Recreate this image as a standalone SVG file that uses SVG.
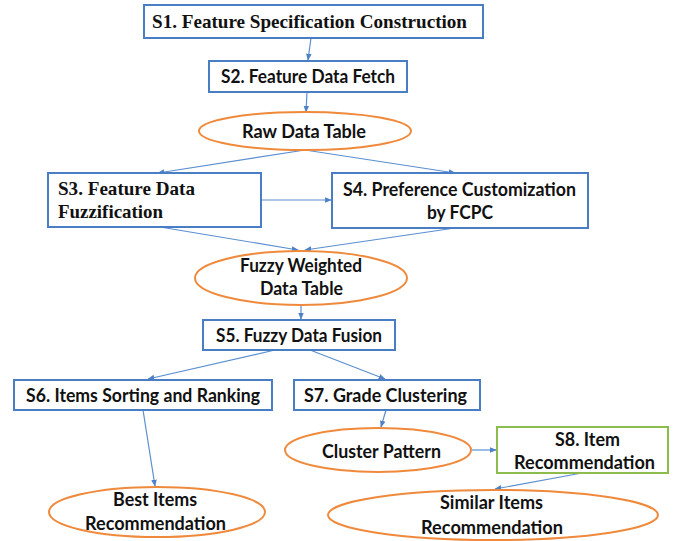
<svg xmlns="http://www.w3.org/2000/svg" width="676" height="541" viewBox="0 0 676 541">
<defs>
<marker id="ah" viewBox="0 0 10 10" refX="9" refY="5" markerWidth="7" markerHeight="7" orient="auto" markerUnits="userSpaceOnUse">
<path d="M0,1 L10,5 L0,9 z" fill="#4f81c7"/>
</marker>
<style>
.box{fill:#fff;stroke:#4a7ec4;stroke-width:2}
.gbox{fill:#fff;stroke:#8cbb4e;stroke-width:2}
.ell{fill:#fff;stroke:#ef8a3c;stroke-width:2}
.c{fill:none;stroke:#5b8fd0;stroke-width:1.2;marker-end:url(#ah)}
.sf{font-family:"Liberation Serif","Times New Roman",serif;font-weight:bold;font-size:19px;fill:#111}
.ss{font-family:Lato,"Liberation Sans",sans-serif;font-weight:bold;font-size:18px;fill:#111}
</style>
</defs>
<rect width="676" height="541" fill="#fff"/>
<g id="connectors">
<line class="c" x1="311" y1="38" x2="308" y2="60"/>
<line class="c" x1="307" y1="92" x2="306" y2="112"/>
<line class="c" x1="305" y1="150" x2="158" y2="173"/>
<line class="c" x1="305" y1="150" x2="455" y2="173"/>
<line class="c" x1="262" y1="200" x2="331" y2="200"/>
<line class="c" x1="160" y1="227" x2="298" y2="250"/>
<line class="c" x1="455" y1="228" x2="305" y2="250"/>
<line class="c" x1="301" y1="305" x2="301" y2="319"/>
<line class="c" x1="275" y1="350" x2="148" y2="379"/>
<line class="c" x1="310" y1="350" x2="385" y2="379"/>
<line class="c" x1="143" y1="410" x2="155" y2="486"/>
<line class="c" x1="386" y1="410" x2="381" y2="427"/>
<line class="c" x1="472" y1="450" x2="496" y2="450"/>
<line class="c" x1="582" y1="473" x2="495" y2="489"/>
</g>
<g id="s1"><rect class="box" x="144" y="5" width="339" height="33"/><text class="sf" x="152" y="28" textLength="315" lengthAdjust="spacingAndGlyphs">S1. Feature Specification Construction</text></g>
<g id="s2"><rect class="box" x="209" y="61" width="198" height="31"/><text class="ss" x="221" y="83" textLength="174" lengthAdjust="spacingAndGlyphs">S2. Feature Data Fetch</text></g>
<g id="raw"><ellipse class="ell" cx="305" cy="131" rx="106" ry="19"/><text class="ss" x="242" y="138" textLength="124" lengthAdjust="spacingAndGlyphs">Raw Data Table</text></g>
<g id="s3"><rect class="box" x="48" y="173" width="213" height="54"/><text class="sf" x="58" y="195" textLength="137" lengthAdjust="spacingAndGlyphs">S3. Feature Data</text><text class="sf" x="58" y="218" textLength="105" lengthAdjust="spacingAndGlyphs">Fuzzification</text></g>
<g id="s4"><rect class="box" x="332" y="173" width="256" height="55"/><text class="ss" x="343" y="196" textLength="233" lengthAdjust="spacingAndGlyphs">S4. Preference Customization</text><text class="ss" x="460" y="219" text-anchor="middle" textLength="66" lengthAdjust="spacingAndGlyphs">by FCPC</text></g>
<g id="fuzzy"><ellipse class="ell" cx="301" cy="278" rx="106" ry="27"/><text class="ss" x="240" y="272" textLength="122" lengthAdjust="spacingAndGlyphs">Fuzzy Weighted</text><text class="ss" x="260" y="295" textLength="83" lengthAdjust="spacingAndGlyphs">Data Table</text></g>
<g id="s5"><rect class="box" x="203" y="320" width="192" height="30"/><text class="ss" x="216" y="342" textLength="166" lengthAdjust="spacingAndGlyphs">S5. Fuzzy Data Fusion</text></g>
<g id="s6"><rect class="box" x="14" y="380" width="258" height="30"/><text class="ss" x="26" y="402" textLength="234" lengthAdjust="spacingAndGlyphs">S6. Items Sorting and Ranking</text></g>
<g id="s7"><rect class="box" x="294" y="380" width="186" height="30"/><text class="ss" x="304" y="402" textLength="163" lengthAdjust="spacingAndGlyphs">S7. Grade Clustering</text></g>
<g id="cluster"><ellipse class="ell" cx="378" cy="450" rx="93" ry="22"/><text class="ss" x="322" y="458" textLength="119" lengthAdjust="spacingAndGlyphs">Cluster Pattern</text></g>
<g id="s8"><rect class="gbox" x="497" y="427" width="171" height="46"/><text class="ss" x="555" y="446" textLength="65" lengthAdjust="spacingAndGlyphs">S8. Item</text><text class="ss" x="514" y="469" textLength="141" lengthAdjust="spacingAndGlyphs">Recommendation</text></g>
<g id="best"><ellipse class="ell" cx="157" cy="512" rx="108" ry="25"/><text class="ss" x="113" y="506" textLength="84" lengthAdjust="spacingAndGlyphs">Best Items</text><text class="ss" x="85" y="530" textLength="141" lengthAdjust="spacingAndGlyphs">Recommendation</text></g>
<g id="similar"><ellipse class="ell" cx="493" cy="515" rx="165" ry="25"/><text class="ss" x="440" y="509" textLength="103" lengthAdjust="spacingAndGlyphs">Similar Items</text><text class="ss" x="421" y="534" textLength="142" lengthAdjust="spacingAndGlyphs">Recommendation</text></g>
</svg>
